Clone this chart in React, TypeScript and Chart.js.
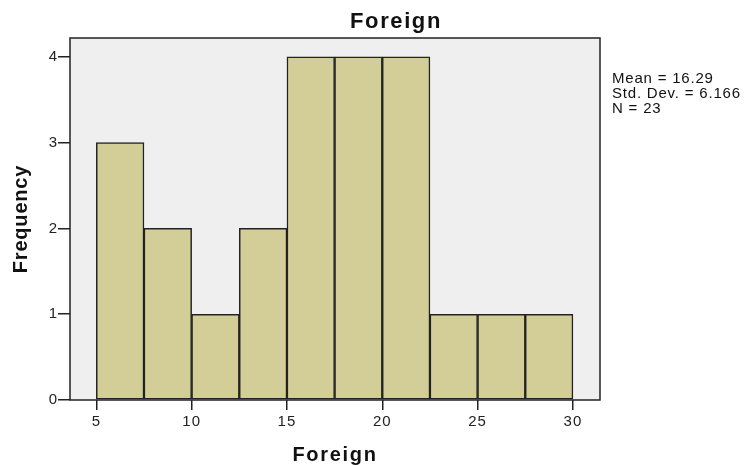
import React, { useEffect, useRef } from "react";
import { Chart, registerables } from "chart.js";

Chart.register(...registerables);

const binStarts = [5, 7.5, 10, 12.5, 15, 17.5, 20, 22.5, 25, 27.5];
const binWidth = 2.5;
const frequencies = [3, 2, 1, 2, 4, 4, 4, 1, 1, 1];
const xTicks = [5, 10, 15, 20, 25, 30];
const yTicks = [0, 1, 2, 3, 4];
const titleText = "Foreign";
const xTitle = "Foreign";
const yTitle = "Frequency";
const statsLines = ["Mean = 16.29", "Std. Dev. = 6.166", "N = 23"];

const FONT = "'Liberation Sans', Arial, sans-serif";

const decorPlugin = {
  id: "decor",
  beforeDraw(chart: any) {
    const { ctx, chartArea: a } = chart;
    ctx.save();
    ctx.fillStyle = "#efefef";
    ctx.fillRect(a.left, a.top, a.right - a.left, a.bottom - a.top);
    ctx.restore();
    ctx.letterSpacing = "1px";
  },
  afterDraw(chart: any) {
    const { ctx, chartArea: a } = chart;
    ctx.save();
    ctx.strokeStyle = "#222";
    ctx.lineWidth = 1.5;
    ctx.strokeRect(a.left, a.top, a.right - a.left, a.bottom - a.top);

    ctx.fillStyle = "#111";
    ctx.textAlign = "left";
    ctx.textBaseline = "alphabetic";

    const centered = (t: string, cx: number, y: number) => {
      const w = ctx.measureText(t).width;
      ctx.fillText(t, cx - w / 2, y);
    };

    ctx.font = `bold 22px ${FONT}`;
    ctx.letterSpacing = "1.6px";
    centered(titleText, 396, 28);

    ctx.font = `bold 20px ${FONT}`;
    ctx.letterSpacing = "1.7px";
    centered(xTitle, (a.left + a.right) / 2, 461);

    ctx.save();
    ctx.letterSpacing = "0.8px";
    ctx.translate(27, (a.top + a.bottom) / 2);
    ctx.rotate(-Math.PI / 2);
    centered(yTitle, 0, 0);
    ctx.restore();

    ctx.font = `15px ${FONT}`;
    ctx.letterSpacing = "0.8px";
    ctx.fillStyle = "#111";
    statsLines.forEach((l, i) => ctx.fillText(l, 612, 83 + i * 15));
    ctx.restore();
  },
};

export default function App() {
  const ref = useRef<HTMLCanvasElement>(null);
  useEffect(() => {
    if (!ref.current) return;
    const chart = new Chart(ref.current, {
      type: "bar",
      data: {
        datasets: [
          {
            data: binStarts.map((s, i) => ({ x: s + binWidth / 2, y: frequencies[i] })),
            backgroundColor: "#d3ce97",
            borderColor: "#222",
            borderWidth: 1.5,
            borderSkipped: false,
            barPercentage: 1,
            categoryPercentage: 1,
          },
        ],
      },
      options: {
        responsive: false,
        animation: false,
        layout: { padding: { left: 0, top: 38, right: 145, bottom: 0 } },
        plugins: { legend: { display: false }, tooltip: { enabled: false }, title: { display: false } },
        scales: {
          x: {
            type: "linear",
            offset: false,
            min: 3.62,
            max: 31.42,
            afterBuildTicks: (s: any) => {
              s.ticks = xTicks.map((v) => ({ value: v }));
            },
            afterFit: (s: any) => {
              s.height = 65;
            },
            grid: { drawOnChartArea: false, drawTicks: true, tickLength: 10, color: "#222", lineWidth: 1.5, offset: false },
            border: { display: false },
            ticks: { color: "#222", font: { family: FONT, size: 15 }, padding: 3, maxRotation: 0, autoSkip: false },
          },
          y: {
            type: "linear",
            min: 0,
            max: 4.22,
            afterBuildTicks: (s: any) => {
              s.ticks = yTicks.map((v) => ({ value: v }));
            },
            afterFit: (s: any) => {
              s.width = 70;
            },
            grid: { drawOnChartArea: false, drawTicks: true, tickLength: 12, color: "#222", lineWidth: 1.5 },
            border: { display: false },
            ticks: { color: "#222", font: { family: FONT, size: 15 }, padding: 0 },
          },
        },
      },
      plugins: [decorPlugin],
    } as any);
    return () => chart.destroy();
  }, []);
  return (
    <div style={{ position: "fixed", left: 0, top: 0, width: 745, height: 465, background: "#fff" }}>
      <canvas ref={ref} width={745} height={465} style={{ width: 745, height: 465 }} />
    </div>
  );
}
